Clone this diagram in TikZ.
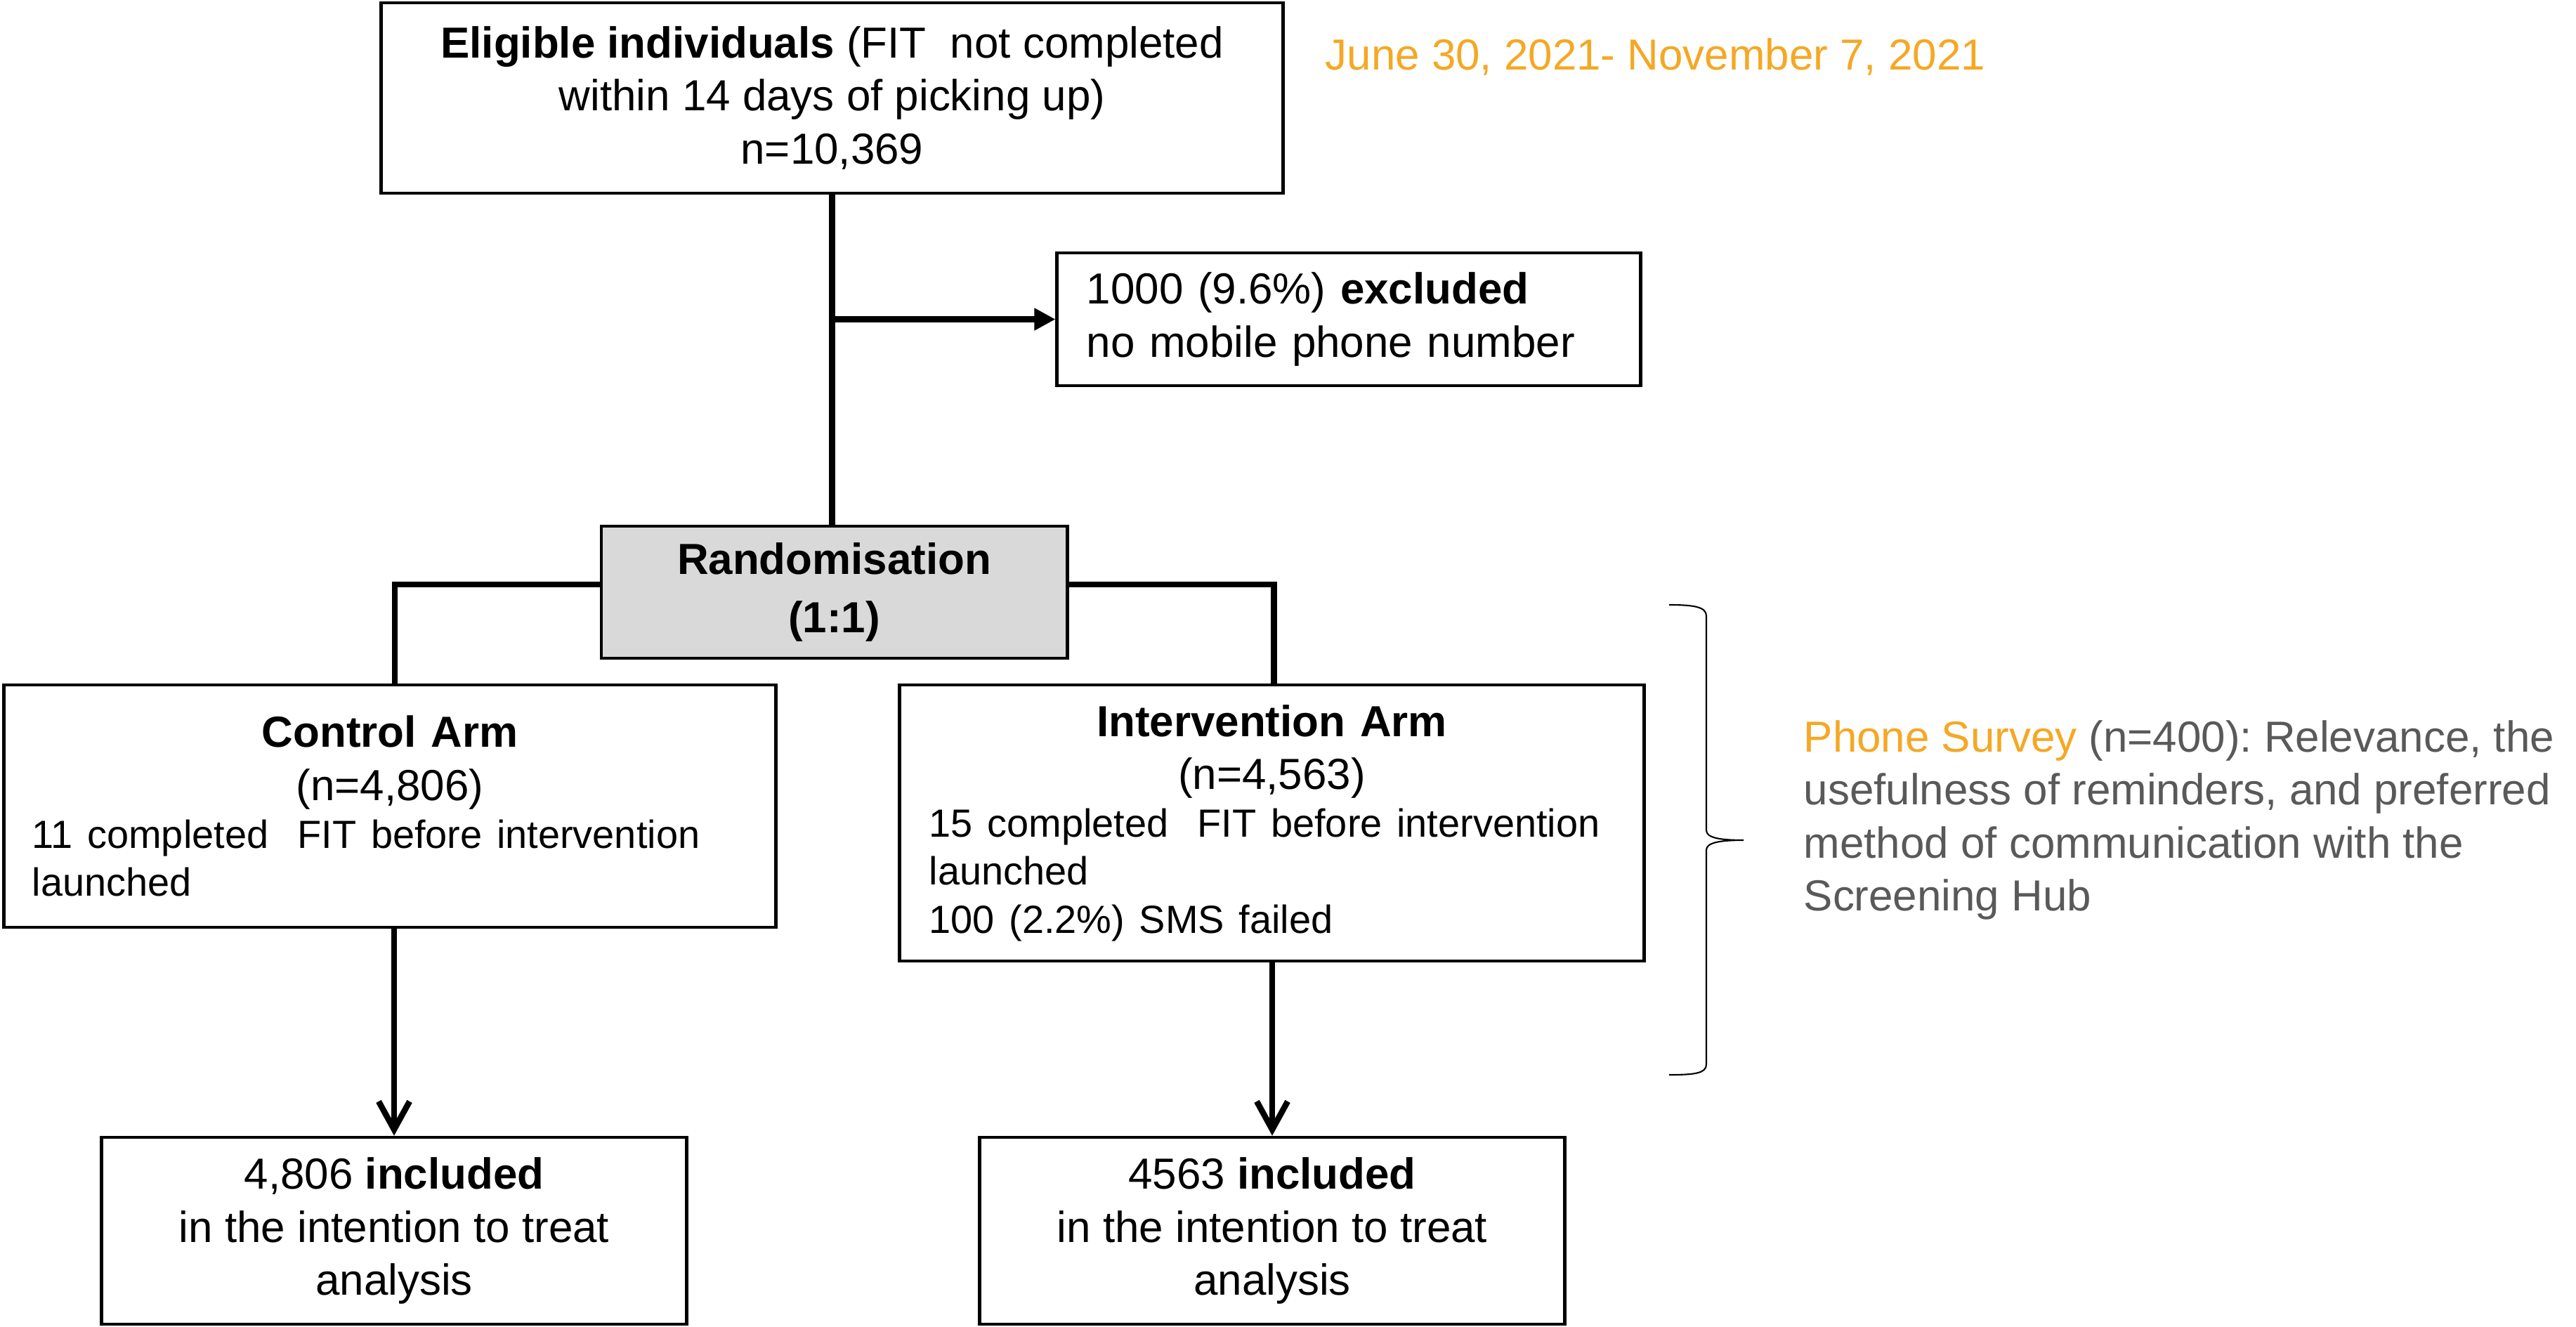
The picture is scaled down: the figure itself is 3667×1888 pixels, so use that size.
\documentclass[tikz,border=0pt]{standalone}
\usepackage{fontspec}
\setmainfont{Liberation Sans}
\usetikzlibrary{arrows.meta}
\definecolor{orng}{RGB}{245,168,36}
\definecolor{txtgray}{RGB}{89,89,89}
\definecolor{randfill}{RGB}{217,217,217}
\newcommand{\bigtxt}{\fontsize{17.6}{21.4}\selectfont}
\newcommand{\smalltxt}{\fontsize{15.9}{19.4}\selectfont}
\frenchspacing
\begin{document}
\begin{tikzpicture}[x=0.01cm,y=-0.01cm,
  every node/.style={font=\bigtxt, inner sep=0pt},
  box/.style={draw=black, line width=1.3pt, fill=white, align=center},
  lbox/.style={box, align=left, execute at begin node={\setlength{\parindent}{0pt}}},
  conn/.style={line width=2.4pt, draw=black, line join=miter},
  arr/.style={conn, -{Triangle[length=0.3cm,width=0.3cm]}},
  downarr/.style={conn, -{Straight Barb[length=0.4cm,width=0.44cm]}},
  bracestyle/.style={line width=0.6pt, draw=black},
]
\useasboundingbox (0,0) rectangle (3667,1888);

% boxes
\node[box, minimum width=12.83cm, minimum height=2.71cm] (elig) at (1184.5,139.5)
  {\textbf{Eligible individuals} (FIT~ not completed\\within 14 days of picking up)\\n=10,369};

\node[lbox, text width=7.46cm, minimum width=8.30cm, minimum height=1.89cm] (excl) at (1920,454.5)
  {\raggedright 1000 (9.6\%) \textbf{excluded}\\no mobile phone number};

\node[box, fill=randfill, minimum width=6.63cm, minimum height=1.88cm,
      font=\fontsize{17.6}{23.6}\selectfont\bfseries] (rand) at (1187.5,843)
  {Randomisation\\(1:1)};

\node[lbox, text width=10.18cm, minimum width=10.98cm, minimum height=3.45cm] (ctrl) at (555,1147.5)
  {{\centering\textbf{Control Arm}\par (n=4,806)\par}%
   {\smalltxt\raggedright 11 completed~ FIT before intervention\newline launched\par}};

\node[lbox, text width=9.75cm, minimum width=10.59cm, minimum height=3.93cm] (int) at (1810.5,1171.5)
  {{\centering\textbf{Intervention Arm}\par (n=4,563)\par}%
   {\smalltxt\raggedright 15 completed~ FIT before intervention\newline launched\newline 100 (2.2\%) SMS failed\par}};

\node[box, minimum width=8.32cm, minimum height=2.66cm] (incl1) at (561,1752)
  {4,806 \textbf{included}\\in the intention to treat\\analysis};

\node[box, minimum width=8.32cm, minimum height=2.66cm] (incl2) at (1811,1752)
  {4563 \textbf{included}\\in the intention to treat\\analysis};

% side texts
\node[anchor=base west, text=orng] (date) at (1886,100) {June 30, 2021- November 7, 2021};

\node[anchor=north west, align=left, text=txtgray] (survey) at (2567,1025)
  {{\color{orng}Phone Survey} (n=400): Relevance, the\\usefulness of reminders, and preferred\\method of communication with the\\Screening Hub};

% connectors
\coordinate (stemjoin) at (elig.south |- excl.west);
\draw[conn] (elig.south) -- (elig.south |- rand.north);
\draw[arr] (stemjoin) -- (excl.west);
\draw[conn] ([yshift=0.11cm]rand.west) -| ([xshift=0.07cm]ctrl.north);
\draw[conn] ([yshift=0.11cm]rand.east) -| ([xshift=0.03cm]int.north);
\draw[downarr] (incl1.north |- ctrl.south) -- (incl1.north);
\draw[downarr] (incl2.north |- int.south) -- (incl2.north);

% brace
\draw[bracestyle] (2376,861) .. controls (2412,861) and (2429,864) .. (2429,877)
  -- (2429,1182) .. controls (2429,1192) and (2446,1196) .. (2482,1196)
  .. controls (2446,1196) and (2429,1200) .. (2429,1210)
  -- (2429,1515) .. controls (2429,1528) and (2412,1530) .. (2376,1530);
\end{tikzpicture}
\end{document}
